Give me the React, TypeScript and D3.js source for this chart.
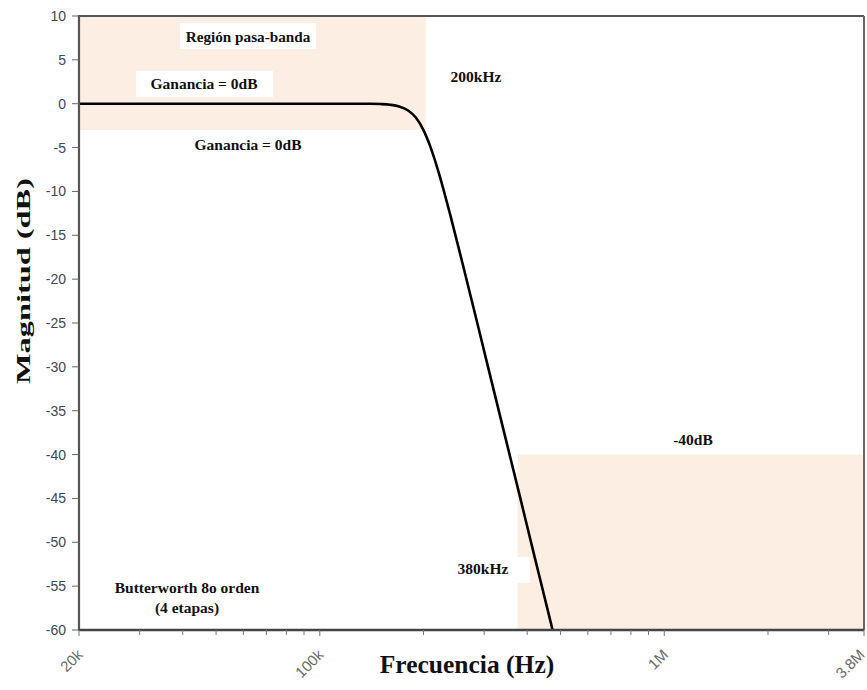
import React from "react";
import * as d3 from "d3";

// Frequency response of an 8th-order Butterworth low-pass filter (4 stages)
const freqHz = [
  20e3, 50e3, 100e3, 120e3, 140e3, 150e3, 160e3, 170e3, 180e3, 190e3, 200e3,
  210e3, 220e3, 240e3, 260e3, 280e3, 300e3, 340e3, 380e3, 420e3, 460e3, 474e3,
];
const magnitudeDb = [
  0, 0, 0, 0, -0.01, -0.04, -0.12, -0.31, -0.74, -1.58, -3.01,
  -5.03, -7.48, -12.9, -18.3, -23.4, -28.2, -36.9, -44.6, -51.6, -57.9, -60,
];

// Shaded design regions: [fStart, fEnd, dbLow, dbHigh]
const passBand = [20e3, 203e3, -3, 10];
const stopBand = [375e3, 3.8e6, -60, -40];

const yTicks = [10, 5, 0, -5, -10, -15, -20, -25, -30, -35, -40, -45, -50, -55, -60];
const xMajor = [20e3, 100e3, 1e6, 3.8e6];
const xMajorLabels = ["20k", "100k", "1M", "3.8M"];
const xMinor = [
  30e3, 40e3, 50e3, 60e3, 70e3, 80e3, 90e3,
  200e3, 300e3, 400e3, 500e3, 600e3, 700e3, 800e3, 900e3,
  2e6, 3e6,
];

const W = 867;
const H = 690;
const left = 79;
const right = 864;
const top = 16;
const bottom = 630;

const SERIF = "'Liberation Serif', 'Times New Roman', serif";
const SANS = "'Liberation Sans', Arial, sans-serif";
const SHADE = "#fdeee3";

export default function App() {
  const x = d3.scaleLog().domain([20e3, 3.8e6]).range([left, right]);
  const y = d3.scaleLinear().domain([-60, 10]).range([bottom, top]);

  const pts = freqHz.map((f, i) => [f, magnitudeDb[i]] as [number, number]);
  const line = d3
    .line<[number, number]>()
    .x((d) => x(d[0]))
    .y((d) => y(d[1]))
    .curve(d3.curveMonotoneX);

  const rectOf = (r: number[]) => ({
    x: x(r[0]),
    y: y(r[3]),
    width: x(r[1]) - x(r[0]),
    height: y(r[2]) - y(r[3]),
  });

  const label = (
    text: string,
    cx: number,
    by: number,
    size = 15.5
  ) => (
    <text
      x={cx}
      y={by}
      textAnchor="middle"
      fontFamily={SERIF}
      fontWeight="bold"
      fontSize={size}
      fill="#111"
    >
      {text}
    </text>
  );

  return (
    <svg
      width={W}
      height={H}
      style={{ position: "absolute", left: 0, top: 0, background: "#fff" }}
    >
      <defs>
        <clipPath id="plot">
          <rect x={left} y={top} width={right - left} height={bottom - top} />
        </clipPath>
      </defs>

      {/* design regions */}
      <rect {...rectOf(passBand)} fill={SHADE} />
      <rect {...rectOf(stopBand)} fill={SHADE} />

      {/* annotation backgrounds */}
      <rect x={180} y={23} width={136} height={26} fill="#fff" />
      <rect x={136} y={71} width={137} height={26} fill="#fff" />
      <rect x={455} y={557} width={75} height={26} fill="#fff" />

      {/* response curve */}
      <path
        d={line(pts) || ""}
        fill="none"
        stroke="#000"
        strokeWidth={2.6}
        clipPath="url(#plot)"
      />

      {/* annotations */}
      {label("Región pasa-banda", 248, 42, 15.2)}
      {label("Ganancia = 0dB", 204, 89)}
      {label("Ganancia = 0dB", 248, 150)}
      {label("200kHz", 476, 82)}
      {label("-40dB", 693, 445)}
      {label("380kHz", 483, 574)}
      {label("Butterworth 8o orden", 187, 593)}
      {label("(4 etapas)", 187, 613)}

      {/* frame */}
      <line x1={left} x2={right} y1={top} y2={top} stroke="#555" strokeWidth={2} />
      <line x1={right} x2={right} y1={top} y2={bottom} stroke="#666" strokeWidth={2} />
      <line x1={left} x2={left} y1={top - 1} y2={bottom + 1} stroke="#555" strokeWidth={2.2} />
      <line x1={left} x2={right} y1={bottom} y2={bottom} stroke="#444" strokeWidth={2.4} />

      {/* y axis */}
      {yTicks.map((t) => (
        <g key={t}>
          <line x1={left - 7} x2={left} y1={y(t)} y2={y(t)} stroke="#666" strokeWidth={1} />
          <text
            x={left - 13}
            y={y(t)}
            dy="0.36em"
            textAnchor="end"
            fontFamily={SANS}
            fontSize={14}
            fill="#404656"
          >
            {t}
          </text>
        </g>
      ))}

      {/* x axis */}
      {xMinor.map((t) => (
        <line key={t} x1={x(t)} x2={x(t)} y1={bottom} y2={bottom + 5} stroke="#777" strokeWidth={1} />
      ))}
      {xMajor.map((t, i) => (
        <g key={t}>
          <line x1={x(t)} x2={x(t)} y1={bottom} y2={bottom + 6} stroke="#777" strokeWidth={1} />
          <text
            transform={`translate(${Math.min(x(t) + 1, right - 2)},${bottom + 22}) rotate(-45)`}
            textAnchor="end"
            dy="0.35em"
            fontFamily={SANS}
            fontSize={15}
            fill="#6a6a6a"
          >
            {xMajorLabels[i]}
          </text>
        </g>
      ))}

      {/* axis titles */}
      <text
        x={467}
        y={673}
        textAnchor="middle"
        fontFamily={SERIF}
        fontWeight="bold"
        fontSize={25.5}
        fill="#111"
      >
        Frecuencia (Hz)
      </text>
      <text
        transform={`translate(30,281) rotate(-90)`}
        textAnchor="middle"
        fontFamily={SERIF}
        fontWeight="bold"
        fontSize={19}
        textLength={206}
        lengthAdjust="spacingAndGlyphs"
        fill="#111"
      >
        Magnitud (dB)
      </text>
    </svg>
  );
}
